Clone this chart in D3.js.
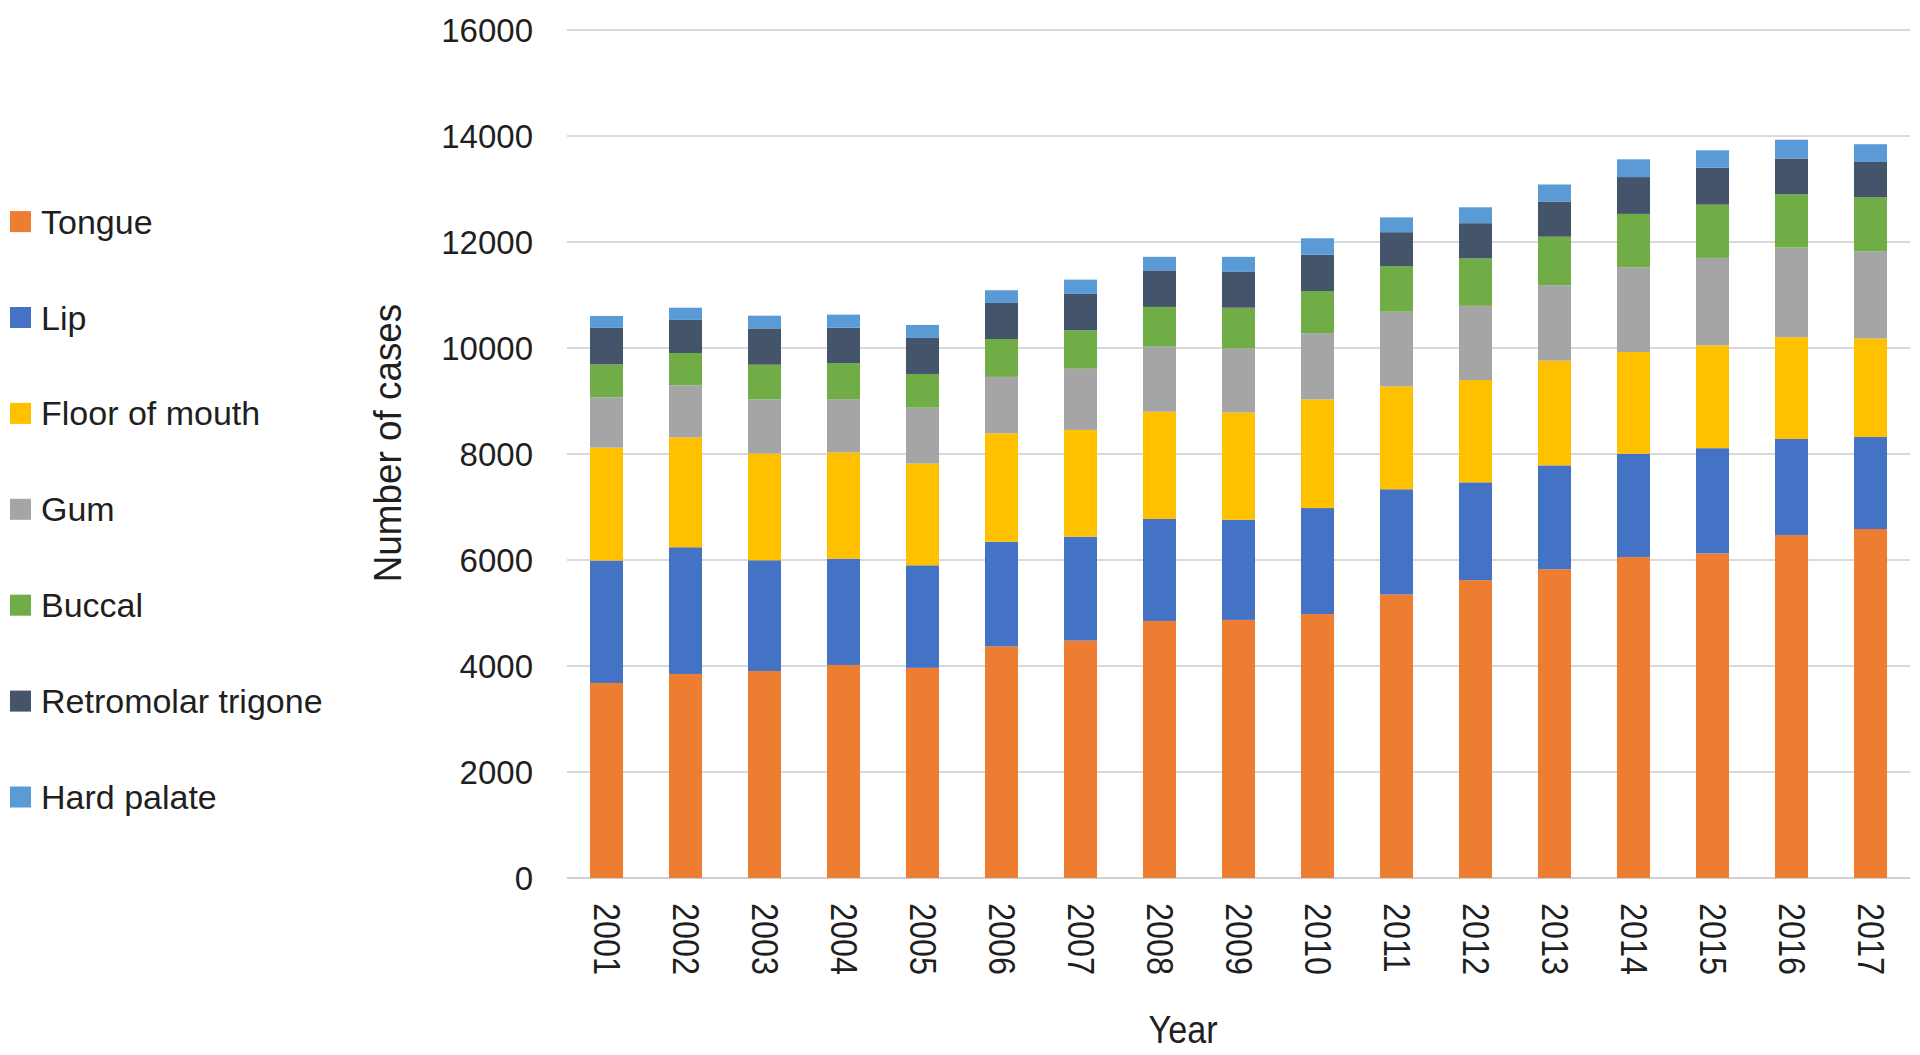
<!DOCTYPE html>
<html>
<head>
<meta charset="utf-8">
<script src="https://cdn.jsdelivr.net/npm/d3@7"></script>
<style>
  body { margin: 0; background: #fff; }
  svg { display: block; font-family: "Liberation Sans", Arial, sans-serif; }
</style>
</head>
<body>
<div id="chart"></div>
<script>
const years = ['2001', '2002', '2003', '2004', '2005', '2006', '2007', '2008', '2009',
  '2010', '2011', '2012', '2013', '2014', '2015', '2016', '2017'];
const seriesNames = ['Tongue', 'Lip', 'Floor of mouth', 'Gum', 'Buccal', 'Retromolar trigone', 'Hard palate'];
const seriesColors = ['#ED7D31', '#4472C4', '#FFC000', '#A5A5A5', '#70AD47', '#44546A', '#5B9BD5'];

const tongue = [3680, 3850, 3905, 4020, 3965, 4370, 4480, 4850, 4870, 4980, 5350, 5620, 5825, 6055, 6125, 6470, 6585];
const lip = [2310, 2390, 2090, 2005, 1935, 1975, 1960, 1925, 1890, 2000, 1985, 1845, 1960, 1950, 1985, 1815, 1735];
const floorOfMouth = [2130, 2075, 2015, 2005, 1920, 2045, 2015, 2025, 2025, 2050, 1940, 1930, 1975, 1920, 1940, 1920, 1860];
const gum = [950, 980, 1020, 1005, 1055, 1065, 1155, 1225, 1205, 1250, 1410, 1400, 1425, 1600, 1650, 1690, 1640];
const buccal = [620, 610, 655, 680, 635, 715, 725, 750, 770, 795, 860, 895, 915, 1005, 1005, 1005, 1025];
const retromolar = [690, 625, 685, 670, 680, 680, 685, 690, 675, 685, 640, 665, 665, 695, 695, 675, 665];
const hardPalate = [225, 230, 240, 245, 245, 240, 270, 255, 285, 310, 280, 300, 320, 335, 330, 355, 335];

const yTicks = [0, 2000, 4000, 6000, 8000, 10000, 12000, 14000, 16000];

const seriesValues = [tongue, lip, floorOfMouth, gum, buccal, retromolar, hardPalate];

const W = 1920, H = 1055;
const svg = d3.select('#chart').append('svg')
  .attr('width', W)
  .attr('height', H);

// build rows for the stack
const rows = years.map((y, i) => {
  const r = { year: y };
  seriesNames.forEach((s, k) => { r[s] = seriesValues[k][i]; });
  return r;
});

const x = d3.scaleBand()
  .domain(years)
  .range([567, 1910])
  .paddingInner(0.582)
  .paddingOuter(0.291);

const y = d3.scaleLinear()
  .domain([0, 16000])
  .range([878, 30]);

const color = d3.scaleOrdinal().domain(seriesNames).range(seriesColors);

// gridlines
svg.append('g')
  .selectAll('line')
  .data(yTicks)
  .join('line')
  .attr('x1', 567)
  .attr('x2', 1910)
  .attr('y1', d => y(d))
  .attr('y2', d => y(d))
  .attr('stroke', d => d === 0 ? '#d0d0d0' : '#d9d9d9')
  .attr('stroke-width', 2);

// y tick labels
svg.append('g')
  .selectAll('text')
  .data(yTicks)
  .join('text')
  .attr('x', 533)
  .attr('y', d => y(d))
  .attr('text-anchor', 'end')
  .attr('dominant-baseline', 'central')
  .style('font-size', '33px')
  .style('fill', '#1f1f1f')
  .text(d => d);

// stacked bars
const stacked = d3.stack().keys(seriesNames)(rows);

svg.append('g')
  .selectAll('g')
  .data(stacked)
  .join('g')
  .attr('fill', d => color(d.key))
  .selectAll('rect')
  .data(d => d)
  .join('rect')
  .attr('x', d => x(d.data.year))
  .attr('y', d => y(d[1]))
  .attr('width', x.bandwidth())
  .attr('height', d => y(d[0]) - y(d[1]));

// x tick labels (rotated)
svg.append('g')
  .selectAll('text')
  .data(years)
  .join('text')
  .attr('transform', d => `translate(${x(d) + x.bandwidth() / 2},903) rotate(90) scale(0.875,1)`)
  .attr('text-anchor', 'start')
  .attr('dominant-baseline', 'central')
  .style('font-size', '37px')
  .style('fill', '#1f1f1f')
  .text(d => d);

// axis titles
svg.append('text')
  .attr('transform', 'translate(401,443) rotate(-90) scale(0.945,1)')
  .attr('text-anchor', 'middle')
  .style('font-size', '39px')
  .style('fill', '#1f1f1f')
  .text('Number of cases');

svg.append('text')
  .attr('transform', 'translate(1183,1043) scale(0.9,1)')
  .attr('text-anchor', 'middle')
  .style('font-size', '38px')
  .style('fill', '#1f1f1f')
  .text('Year');

// legend
const legend = svg.append('g')
  .selectAll('g')
  .data(seriesNames)
  .join('g')
  .attr('transform', (d, i) => `translate(0,${221.6 + i * 95.9})`);

legend.append('rect')
  .attr('x', 10)
  .attr('y', -10.5)
  .attr('width', 21)
  .attr('height', 21)
  .attr('fill', d => color(d));

legend.append('text')
  .attr('x', 41)
  .attr('y', 0)
  .attr('dominant-baseline', 'central')
  .style('font-size', '34px')
  .style('fill', '#1f1f1f')
  .text(d => d);
</script>
</body>
</html>
